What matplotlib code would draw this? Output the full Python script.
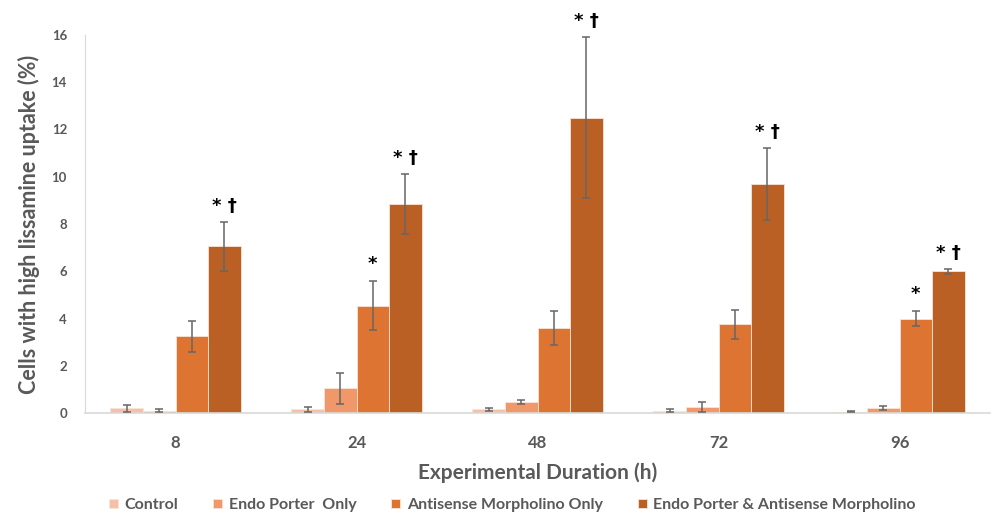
import matplotlib
matplotlib.use("Agg")
import matplotlib.pyplot as plt
import numpy as np

categories = ["8", "24", "48", "72", "96"]
series_names = ["Control", "Endo Porter  Only", "Antisense Morpholino Only",
                "Endo Porter & Antisense Morpholino"]
control = [0.20, 0.15, 0.15, 0.10, 0.05]
control_err = [0.15, 0.10, 0.05, 0.07, 0.02]
endo = [0.10, 1.05, 0.45, 0.25, 0.20]
endo_err = [0.07, 0.65, 0.08, 0.20, 0.08]
antisense = [3.25, 4.55, 3.60, 3.75, 4.00]
antisense_err = [0.65, 1.02, 0.72, 0.60, 0.30]
combined = [7.05, 8.85, 12.50, 9.70, 6.00]
combined_err = [1.05, 1.28, 3.42, 1.52, 0.10]
antisense_marks = ["", "*", "", "", "*"]
combined_marks = ["* †", "* †", "* †", "* †", "* †"]

colors = ["#F5BFA9", "#F1986B", "#DE7431", "#BA6025"]
values = [control, endo, antisense, combined]
errors = [control_err, endo_err, antisense_err, combined_err]

plt.rcParams['font.family'] = ['Lato', 'DejaVu Sans']
gray = "#595959"

fig = plt.figure(figsize=(9.95, 5.25), dpi=100)
ax = fig.add_axes([85/995, 1-413/525, 905/995, (413-35)/525])

x = np.arange(len(categories))
w = 0.18
for i, (vals, errs, c) in enumerate(zip(values, errors, colors)):
    pos = x + (i - 1.5) * w
    ax.bar(pos, vals, width=w, color=c, edgecolor="#FBE3D6", linewidth=0.6,
           label=series_names[i], zorder=2)
    ax.errorbar(pos, vals, yerr=errs, fmt="none", ecolor="#666666",
                elinewidth=1.1, capsize=3, capthick=1.1, zorder=3)

for i in range(len(categories)):
    if antisense_marks[i]:
        ax.text(x[i] + 0.5 * w, antisense[i] + antisense_err[i] + 0.35,
                antisense_marks[i], ha="center", va="bottom", fontsize=13,
                fontweight="bold", color="black",
                family=['DejaVu Sans'])
    if combined_marks[i]:
        ax.text(x[i] + 1.5 * w, combined[i] + combined_err[i] + 0.3,
                combined_marks[i], ha="center", va="bottom", fontsize=13,
                fontweight="bold", color="black",
                family=['DejaVu Sans'])

ax.set_xlim(-0.5, len(categories) - 0.5)
ax.set_ylim(0, 16)
ax.set_yticks(np.arange(0, 17, 2))
ax.set_xticks(x)
ax.set_xticklabels(categories)
ax.tick_params(axis="both", length=0, colors=gray)
for lbl in ax.get_yticklabels():
    lbl.set_fontsize(9.5)
    lbl.set_fontweight("bold")
for lbl in ax.get_xticklabels():
    lbl.set_fontsize(12)
    lbl.set_fontweight("bold")
ax.tick_params(axis="y", pad=13)
ax.tick_params(axis="x", pad=16)

for s in ["top", "right"]:
    ax.spines[s].set_visible(False)
ax.spines["left"].set_color("#D9D9D9")
ax.spines["bottom"].set_color("#D9D9D9")
ax.spines["bottom"].set_linewidth(1.2)

ax.set_ylabel("Cells with high lissamine uptake (%)", fontsize=15.5,
              fontweight="bold", color=gray, labelpad=8)
ax.set_xlabel("Experimental Duration (h)", fontsize=15, fontweight="bold",
              color=gray, labelpad=8)

leg = fig.legend(loc="center", bbox_to_anchor=(0.515, 1-505/525), ncol=4,
                 frameon=False, fontsize=11.5, handlelength=0.55,
                 handleheight=0.55, columnspacing=2.2, handletextpad=0.4)
for t in leg.get_texts():
    t.set_color(gray)
    t.set_fontweight("bold")

fig.savefig("out.png", dpi=100)
